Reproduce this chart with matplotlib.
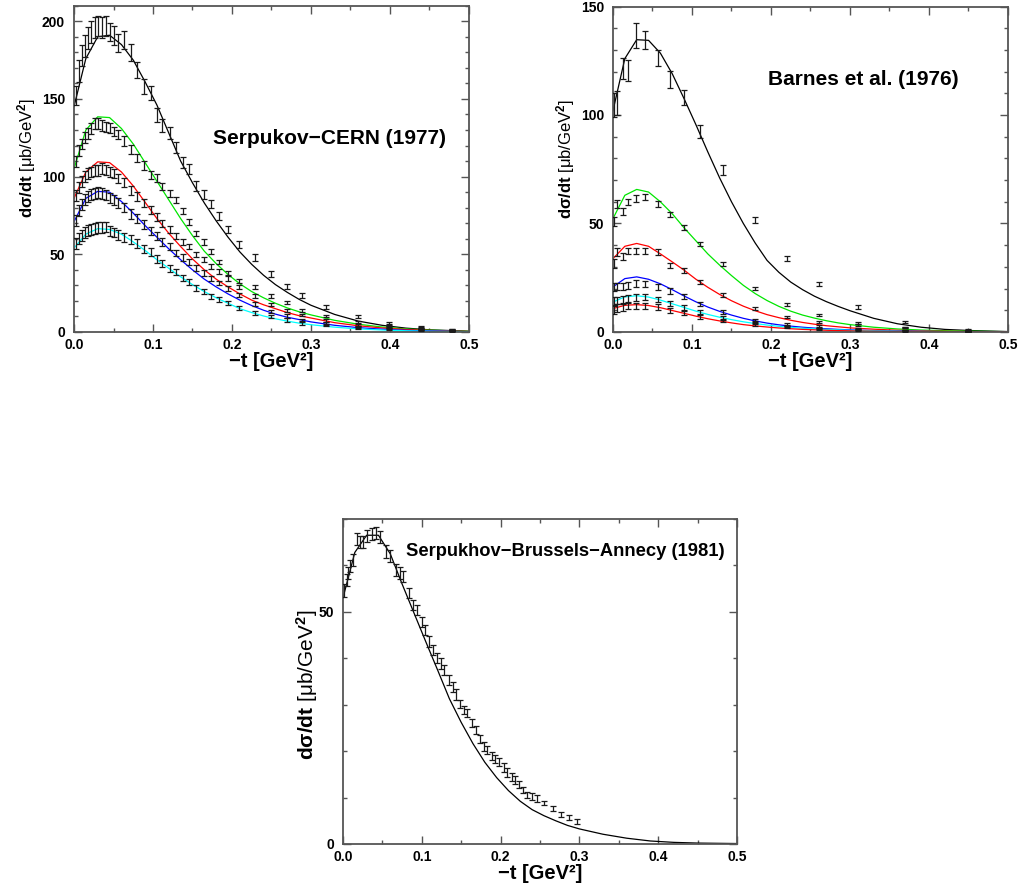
import matplotlib
matplotlib.use('Agg')
import matplotlib.pyplot as plt
from matplotlib.ticker import MultipleLocator, FormatStrFormatter

plt.rcParams['font.family'] = ['Liberation Sans', 'DejaVu Sans']
plt.rcParams['font.weight'] = 'bold'
plt.rcParams['mathtext.fontset'] = 'custom'
plt.rcParams['mathtext.rm'] = 'Liberation Sans'
plt.rcParams['mathtext.bf'] = 'Liberation Sans:bold'
plt.rcParams['mathtext.it'] = 'Liberation Sans:italic'

# ---------------- model curves (shared t grid) ----------------
t_curve = [0, 0.015, 0.03, 0.045, 0.06, 0.075, 0.09, 0.105, 0.12, 0.135, 0.15, 0.165, 0.18,
           0.195, 0.21, 0.225, 0.24, 0.255, 0.27, 0.285, 0.30, 0.33, 0.36, 0.39, 0.42, 0.45, 0.50]

# Serpukov-CERN (1977)
curve_L_black = [145, 176, 190, 191, 185, 175, 161, 146, 128, 110, 96, 83, 71.5, 61, 51.5, 43.5, 36.5,
                 30.5, 25.5, 21, 17.2, 11.3, 7, 4.3, 2.5, 1.4, 0.5]
curve_L_green = [105, 130, 138.5, 138, 131, 121, 109, 97, 85, 73, 62, 52, 44, 37, 31, 26, 22, 18.5,
                 15.5, 13, 11, 7.5, 5, 3.2, 2, 1.2, 0.4]
curve_L_red = [86, 103, 109.5, 109, 103, 94, 83.5, 73, 63.5, 55, 47, 40, 34, 29, 24.5, 20.5, 17.5, 15,
               12.5, 10.5, 9, 6, 4, 2.6, 1.6, 1, 0.3]
curve_L_blue = [71, 86, 90.5, 90, 84, 76.5, 68.5, 61, 53.5, 46.5, 40, 34, 29, 24.5, 20.5, 17, 14, 11.5,
                9.5, 8, 6.5, 4.3, 2.8, 1.8, 1.1, 0.7, 0.2]
curve_L_cyan = [54, 63, 66.5, 66, 63, 58, 52.5, 46.5, 41, 35.5, 30.5, 26, 22, 18.5, 15, 12.5, 10.3, 8.5,
                7, 5.7, 4.7, 3.1, 2, 1.3, 0.8, 0.5, 0.15]

# Barnes et al. (1976)
curve_R_black = [102, 126, 134.7, 134.4, 128.5, 119, 107.5, 95.5, 83, 71, 60, 50, 41, 33, 27.5, 23,
                 19.5, 16.5, 14, 11.8, 9.8, 6.3, 3.8, 2.2, 1.2, 0.7, 0.2]
curve_R_green = [52.3, 63, 65.7, 64.5, 60, 54.5, 48, 42, 36, 30.8, 26, 21.5, 17.7, 14.5, 11.8, 9.6, 7.8,
                 6.4, 5.2, 4.2, 3.4, 2.2, 1.4, 0.9, 0.6, 0.4, 0.15]
curve_R_red = [33.8, 39.5, 40.8, 39.5, 36, 32.3, 28.5, 24.3, 20.6, 17.3, 14.4, 11.9, 9.8, 8.0, 6.6, 5.4,
               4.4, 3.6, 2.9, 2.4, 1.9, 1.3, 0.8, 0.5, 0.3, 0.2, 0.07]
curve_R_blue = [20.8, 24.6, 25.4, 24.3, 22.2, 19.5, 16.6, 13.9, 11.5, 9.5, 7.8, 6.3, 5.1, 4.1, 3.3, 2.7,
                2.2, 1.8, 1.5, 1.2, 1.0, 0.65, 0.42, 0.27, 0.17, 0.11, 0.04]
curve_R_cyan = [13.8, 16.2, 16.7, 16.1, 14.7, 13, 11.3, 9.6, 8.1, 6.8, 5.7, 4.7, 3.9, 3.2, 2.6, 2.15,
                1.75, 1.45, 1.2, 1.0, 0.8, 0.55, 0.36, 0.24, 0.16, 0.1, 0.04]
curve_R_red2 = [10.8, 12.3, 12.6, 12.2, 11.2, 9.9, 8.6, 7.3, 6.1, 5.1, 4.2, 3.4, 2.8, 2.3, 1.85, 1.5,
                1.2, 1.0, 0.8, 0.65, 0.52, 0.34, 0.22, 0.14, 0.09, 0.06, 0.02]

# Serpukhov-Brussels-Annecy (1981)
curve_B = [53, 62.8, 66.5, 66.5, 62.5, 56, 49.8, 43.6, 37.5, 31.3, 26.2, 21.6, 17.6, 14.3, 11.5, 9.2,
           7.4, 6.1, 5.0, 4.0, 3.25, 2.1, 1.25, 0.65, 0.35, 0.2, 0.1]

# ---------------- data: Serpukov-CERN (1977) ----------------
t_data_L = [0.002, 0.006, 0.010, 0.014, 0.018, 0.022, 0.026, 0.030, 0.035, 0.040, 0.045, 0.050, 0.056,
            0.063, 0.072, 0.080, 0.089, 0.097, 0.105, 0.112, 0.121, 0.129, 0.138, 0.146, 0.155, 0.165,
            0.173, 0.183, 0.195, 0.209, 0.229, 0.249, 0.269, 0.289, 0.319, 0.359, 0.399, 0.439, 0.478]
data_L_black = [152, 168, 178, 184, 189, 193, 196, 197, 196, 197, 193, 191, 186, 188, 180, 168.5, 158,
                153.5, 139.5, 133, 128, 118.6, 109, 105, 94, 88.7, 82.3, 74.8, 66, 56.4, 48, 37.3,
                29.1, 23.3, 16.3, 9.9, 5.6, 3.2, 1.7]
data_L_green = [110, 117, 121, 125, 128, 131, 134, 134, 133, 132, 131, 129, 127, 123, 117.5, 112, 107,
                101, 99, 93.5, 89, 85, 78, 71, 63.5, 58, 52, 45, 38, 33, 29, 23.3, 18.8, 14, 10.3, 6.6,
                4.5, 2.4, 1.3]
data_L_red = [88, 93, 97, 100, 102, 103, 104, 104, 105, 104, 103, 102, 99, 96, 91, 87, 83, 78.5, 74,
              70, 66, 62, 58, 55, 50, 46.5, 42, 38.8, 34.5, 29, 23, 17.8, 13.7, 10.9, 7.3, 4.5, 3.4,
              2.0, 1.1]
data_L_blue = [72, 78, 82, 85, 87, 88.5, 89, 89.5, 89, 88, 86, 85, 83, 80, 76, 73, 69, 65, 62, 58, 55,
               51, 48, 45, 41, 38, 34.5, 31.5, 28, 24, 17.8, 13.1, 10.3, 7.7, 5.6, 3.4, 2.8, 1.6, 0.9]
data_L_cyan = [57, 60, 62, 64, 65.5, 66, 66.5, 67, 67, 67.5, 65, 64, 62.5, 61, 59.5, 57, 53.5, 51.5,
               47, 44, 41, 38.5, 35, 32, 28.5, 26, 23, 21, 18.5, 15.6, 12.4, 9.9, 7.7, 5.6, 4.5, 2.8,
               2.2, 1.2, 0.7]
err_L_black = [6, 7, 7, 7, 7, 7, 7, 6.5, 6.5, 6.5, 6, 6, 6, 6, 5.5, 5, 5, 4.5, 4.5, 4, 4, 3.5, 3.5, 3,
               3, 3, 2.8, 2.6, 2.5, 2.3, 2, 1.8, 1.6, 1.5, 1.3, 1.1, 0.9, 0.7, 0.5]
err_L_color = [3.5, 3.5, 3.5, 3.5, 3.5, 3.5, 3.5, 3.5, 3.5, 3.2, 3.2, 3, 3, 3, 3, 2.8, 2.8, 2.6, 2.5,
               2.4, 2.2, 2, 2, 1.9, 1.8, 1.7, 1.6, 1.5, 1.4, 1.3, 1.2, 1.1, 1, 0.9, 0.8, 0.7, 0.6,
               0.5, 0.4]

# ---------------- data: Barnes et al. (1976) ----------------
t_data_R = [0.0013, 0.0055, 0.0122, 0.0194, 0.0291, 0.0405, 0.0565, 0.072, 0.0903, 0.1097, 0.1392,
            0.1797, 0.2198, 0.2612, 0.3105, 0.3696, 0.4498]
data_R_black = [104.7, 105.5, 121.4, 120.5, 136.7, 134.4, 126.3, 116.3, 108.2, 92.4, 74.8, 51.7, 34,
                22.2, 11.5, 4.6, 1.1]
err_R_black = [5.4, 5.4, 5, 5, 5.8, 4.2, 3.8, 3.8, 3.5, 3, 2.3, 1.5, 1.2, 1.0, 0.8, 0.6, 0.4]
data_R_green = [50.8, 58.9, 55.4, 60, 61.5, 62, 58.9, 54.3, 48.2, 40.5, 31.5, 20.2, 12.8, 7.7, 4.2, 2, 0.6]
data_R_red = [31.5, 36.9, 34.9, 37.4, 37.4, 37.4, 36.9, 30.8, 28.5, 23.1, 16.9, 10.8, 6.9, 4.6, 3.1, 2, 0.8]
data_R_blue = [20.8, 21, 20.8, 21.5, 22.3, 22, 20.8, 18.9, 16.2, 12.8, 9.2, 5.4, 3.5, 2.5, 1.5, 0.8, 0.3]
data_R_cyan = [14, 14.5, 15, 15.5, 16, 16, 15, 13, 11.2, 9, 6.5, 4.2, 2.8, 2, 1.2, 0.6, 0.2]
data_R_red2 = [10.5, 11, 11.5, 12, 12, 12, 11.5, 10, 8.8, 7.2, 5.3, 3.4, 2.3, 1.5, 0.9, 0.5, 0.2]
err_R_color = [2, 1.8, 1.6, 1.5, 1.5, 1.4, 1.3, 1.2, 1.1, 1, 0.9, 0.7, 0.6, 0.5, 0.4, 0.3, 0.2]

# ---------------- data: Serpukhov-Brussels-Annecy (1981) ----------------
t_data_B = [0.0017, 0.0047, 0.0068, 0.0089, 0.0123, 0.0173, 0.0216, 0.0258, 0.0309, 0.0364, 0.0419,
            0.047, 0.0546, 0.0597, 0.0673, 0.0724, 0.0765, 0.0842, 0.0893, 0.0935, 0.0999, 0.1041,
            0.1096, 0.1138, 0.1189, 0.124, 0.1286, 0.135, 0.1392, 0.1434, 0.1485, 0.1536, 0.1578,
            0.1633, 0.1688, 0.1739, 0.179, 0.1832, 0.1887, 0.193, 0.1985, 0.2044, 0.2086, 0.2141,
            0.2184, 0.2239, 0.229, 0.234, 0.2395, 0.2458, 0.2556, 0.2662, 0.2763, 0.2868, 0.2966]
data_B = [54.6, 56.8, 58.3, 59.8, 61.2, 65.6, 65.1, 65, 66.4, 66.8, 66.9, 66.1, 63, 62.1, 59.1, 58.3,
          57.6, 54, 51.5, 50.4, 47.9, 46.1, 43.6, 41.8, 40, 38.9, 37.4, 35.4, 33.8, 32.2, 30.2, 28.9,
          28.2, 26, 24.6, 22.6, 21, 20.3, 19, 18.3, 17.6, 16.5, 15.4, 14.4, 13.8, 12.8, 11.6, 10.6,
          10.2, 9.8, 8.8, 7.6, 6.4, 5.7, 4.8]
err_B = [1.3, 1.3, 1.3, 1.3, 1.3, 1.3, 1.3, 1.3, 1.3, 1.3, 1.3, 1.3, 1.3, 1.3, 1.3, 1.3,
         1.1, 1.1, 1.1, 1.1, 1.1, 1.1, 1.1, 1.1, 1.1, 1.1, 1.1, 1.1, 1.1, 1.1,
         0.9, 0.9, 0.9, 0.9, 0.9, 0.9, 0.9, 0.9, 0.9, 0.9, 0.9, 0.9, 0.9, 0.9, 0.9,
         0.7, 0.7, 0.7, 0.7, 0.7, 0.5, 0.5, 0.5, 0.5, 0.5]

titles = ['Serpukov\u2212CERN (1977)', 'Barnes et al. (1976)', 'Serpukhov\u2212Brussels\u2212Annecy (1981)']
xlabel = '\u2212t [GeV\u00b2]'
ylabel = '$\\mathbf{d\u03c3/dt}$ [\u03bcb/GeV$^2$]'

C_BLACK, C_GREEN, C_RED, C_BLUE, C_CYAN = 'black', '#00e600', '#ff0000', '#0000ff', '#00ffff'
FRAME = '#555555'

fig = plt.figure(figsize=(10.2, 8.88), dpi=100)
ax1 = fig.add_axes([0.07255, 0.62613, 0.38725, 0.36745])
ax2 = fig.add_axes([0.60098, 0.62613, 0.38725, 0.36655])
ax3 = fig.add_axes([0.33627, 0.04955, 0.38627, 0.36599])


def style(ax, ymax):
    ax.set_xlim(0, 0.5)
    ax.set_ylim(0, ymax)
    ax.xaxis.set_major_locator(MultipleLocator(0.1))
    ax.xaxis.set_minor_locator(MultipleLocator(0.05))
    ax.xaxis.set_major_formatter(FormatStrFormatter('%.1f'))
    ax.yaxis.set_major_locator(MultipleLocator(50))
    ax.yaxis.set_minor_locator(MultipleLocator(10))
    ax.tick_params(which='both', direction='in', top=True, right=True, color=FRAME,
                   labelsize=10)
    ax.tick_params(axis='x', pad=4.5)
    ax.tick_params(axis='y', pad=6.5)
    ax.tick_params(which='major', length=6, width=1)
    ax.tick_params(which='minor', length=3, width=1)
    for s in ax.spines.values():
        s.set_color(FRAME)
        s.set_linewidth(1.3)


def ebar(ax, t, v, e):
    ax.errorbar(t, v, yerr=e, fmt='none', ecolor='#1a1a1a', elinewidth=0.9,
                capsize=2.2, capthick=0.9, zorder=3)


# ---- panel 1 ----
style(ax1, 210)
for c, col in [(curve_L_black, C_BLACK), (curve_L_green, C_GREEN), (curve_L_red, C_RED),
               (curve_L_blue, C_BLUE), (curve_L_cyan, C_CYAN)]:
    ax1.plot(t_curve, c, color=col, lw=0.9, zorder=2)
ebar(ax1, t_data_L, data_L_black, err_L_black)
for d in [data_L_green, data_L_red, data_L_blue, data_L_cyan]:
    ebar(ax1, t_data_L, d, err_L_color)
ax1.text(0.176, 124.6, titles[0], fontsize=15, fontweight='bold', va='center', ha='left')

# ---- panel 2 ----
style(ax2, 150)
for c, col in [(curve_R_black, C_BLACK), (curve_R_green, C_GREEN), (curve_R_red, C_RED),
               (curve_R_blue, C_BLUE), (curve_R_cyan, C_CYAN), (curve_R_red2, C_RED)]:
    ax2.plot(t_curve, c, color=col, lw=0.9, zorder=2)
ebar(ax2, t_data_R, data_R_black, err_R_black)
for d in [data_R_green, data_R_red, data_R_blue, data_R_cyan, data_R_red2]:
    ebar(ax2, t_data_R, d, err_R_color)
ax2.text(0.196, 116.3, titles[1], fontsize=15, fontweight='bold', va='center', ha='left')

# ---- panel 3 ----
style(ax3, 70)
ax3.plot(t_curve, curve_B, color=C_BLACK, lw=0.9, zorder=2)
ebar(ax3, t_data_B, data_B, err_B)
ax3.text(0.08, 62.9, titles[2], fontsize=13.2, fontweight='bold', va='center', ha='left')

for ax, ys, yc in [(ax1, 12, (-0.091, 0.533)), (ax2, 12, (-0.091, 0.533)), (ax3, 15, (-0.058, 0.49))]:
    ax.set_xlabel(xlabel, fontsize=14.5, fontweight='bold', labelpad=0)
    ax.set_ylabel(ylabel, fontsize=ys, fontweight='normal')
    ax.yaxis.set_label_coords(*yc)

fig.savefig('out.png', dpi=100)
